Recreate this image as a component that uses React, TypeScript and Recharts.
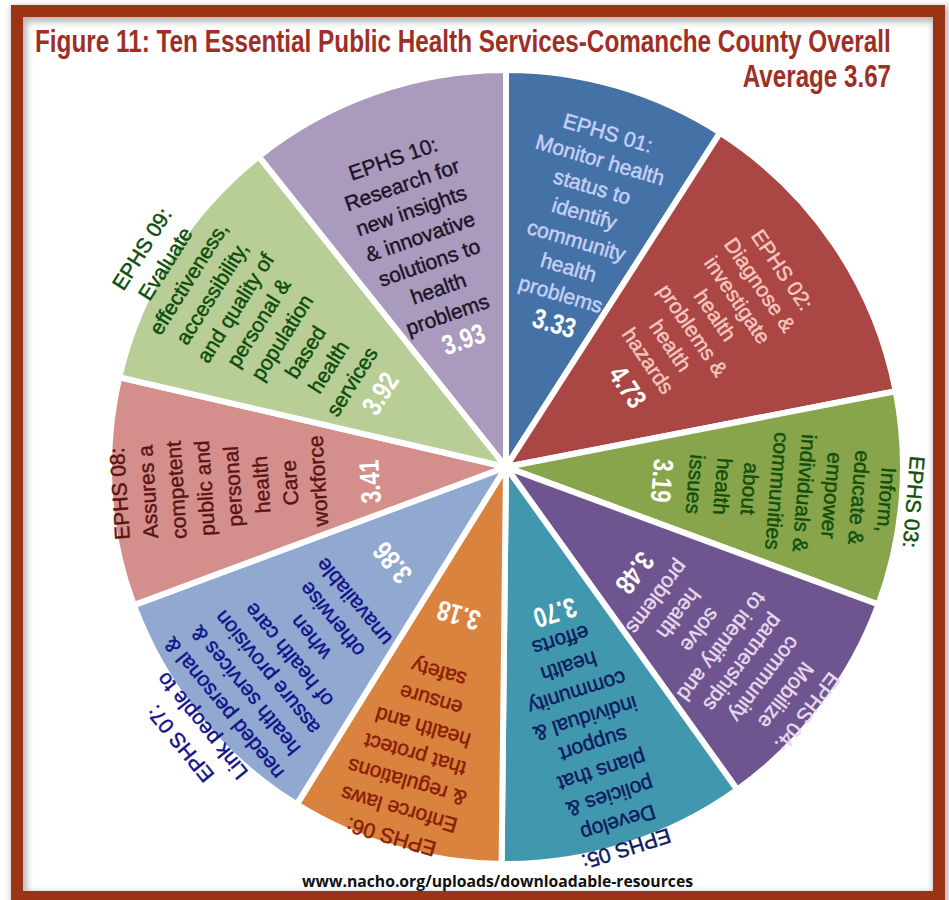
import { Cell, Pie, PieChart } from "recharts";

// EPHS scores, Comanche County
const services = [
  "EPHS 01:", "EPHS 02:", "EPHS 03:", "EPHS 04:", "EPHS 05:",
  "EPHS 06:", "EPHS 07:", "EPHS 08:", "EPHS 09:", "EPHS 10:",
];
const scores = [3.33, 4.73, 3.19, 3.48, 3.7, 3.18, 3.86, 3.41, 3.92, 3.93];
const descriptions = [
  ["Monitor health", "status to", "identify", "community", "health", "problems"],
  ["Diagnose &", "investigate", "health", "problems &", "health", "hazards"],
  ["Inform,", "educate &", "empower", "individuals &", "communities", "about", "health", "issues"],
  ["Mobilize", "community", "partnerships", "to identify and", "solve", "health", "problems"],
  ["Develop", "policies &", "plans that", "support", "individual &", "community", "health", "efforts"],
  ["Enforce laws", "& regulations", "that protect", "health and", "ensure", "safety"],
  ["Link people to", "needed personal &", "health services &", "assure provision", "of health care", "when", "otherwise", "unavailable"],
  ["Assures a", "competent", "public and", "personal", "health", "Care", "workforce"],
  ["Evaluate", "effectiveness,", "accessibility,", "and quality of", "personal &", "population", "based", "health", "services"],
  ["Research for", "new insights", "& innovative", "solutions to", "health", "problems"],
];

const sliceColors = [
  "#4472a6", "#aa4644", "#88a54c", "#6f5590", "#4198ae",
  "#da833e", "#91a9d0", "#d48f8d", "#b9cd97", "#a99abe",
];
const textColors = [
  "#c6d0f7", "#f5c6c0", "#10500c", "#e6d9ee", "#0f1b5e",
  "#8a1c05", "#10128a", "#5b1414", "#0b4d0b", "#1e1428",
];

// r0 = radius of first line, lh = line step, t = sideways shift, vr/vt = score position
const labelLayout = [
  { r0: 349, lh: 28, t: 4, vr: 152, vt: 6 },
  { r0: 339, lh: 27, t: -8, vr: 146, vt: 2 },
  { r0: 409, lh: 27.4, t: 2, vr: 157, vt: 1 },
  { r0: 388, lh: 27, t: 12, vr: 167, vt: 6 },
  { r0: 400, lh: 27.3, t: 0, vr: 154, vt: -3 },
  { r0: 387, lh: 28.5, t: 7, vr: 156, vt: 4 },
  { r0: 427, lh: 28, t: -8, vr: 149, vt: -2 },
  { r0: 387, lh: 28.4, t: -2, vr: 137, vt: -6 },
  { r0: 424, lh: 27.6, t: -10, vr: 146, vt: -5 },
  { r0: 328, lh: 27.5, t: -5, vr: 135, vt: 2 },
];

const data = services.map((s, i) => ({ name: s, value: scores[i] }));

const FONT = "'Liberation Sans', Arial, sans-serif";

const renderLabel = (props: any) => {
  const { cx, cy, midAngle, index } = props;
  const lay = labelLayout[index];
  const lines = [services[index], ...descriptions[index]];
  return (
    <g key={`lbl-${index}`} transform={`translate(${cx},${cy}) rotate(${90 - midAngle})`}>
      <text
        textAnchor="middle"
        fill={textColors[index]}
        stroke={textColors[index]}
        strokeWidth={0.45}
        fontSize={21}
        fontFamily={FONT}
      >
        {lines.map((s, i) => (
          <tspan key={i} x={lay.t} y={-(lay.r0 - i * lay.lh) + 7}>
            {s}
          </tspan>
        ))}
      </text>
      <g transform={`translate(${lay.vt},${-lay.vr + 10}) scale(0.8,1)`}>
        <text textAnchor="middle" fill="#fff" fontSize={28} fontWeight="bold" fontFamily={FONT}>
          {scores[index].toFixed(2)}
        </text>
      </g>
    </g>
  );
};

export default function App() {
  return (
    <div style={{ position: "absolute", left: 0, top: 0, width: 949, height: 900, background: "#fff" }}>
      <svg width={949} height={900} style={{ position: "absolute", left: 0, top: 0 }}>
        <defs>
          <filter id="soft" x="-5%" y="-5%" width="110%" height="110%">
            <feGaussianBlur stdDeviation="3" />
          </filter>
        </defs>
        <rect x={19} y={14} width={922} height={886} fill="none" stroke="#000" strokeOpacity={0.28} strokeWidth={16} filter="url(#soft)" />
        <rect x={17} y={11} width={922} height={886} fill="none" stroke="#9b3412" strokeWidth={12} />
        <g transform="translate(35,52) scale(0.78,1)">
          <text
            x={0}
            y={0}
            fontSize={31}
            fontWeight="bold"
            fill="#9e2f27"
            fontFamily={FONT}
            textLength={1097}
            lengthAdjust="spacingAndGlyphs"
          >
            Figure 11:  Ten Essential Public Health Services-Comanche County Overall
          </text>
        </g>
        <g transform="translate(891,87) scale(0.78,1)">
          <text
            x={0}
            y={0}
            textAnchor="end"
            fontSize={31}
            fontWeight="bold"
            fill="#9e2f27"
            fontFamily={FONT}
            textLength={190}
            lengthAdjust="spacingAndGlyphs"
          >
            Average 3.67
          </text>
        </g>
        <text
          x={302}
          y={887}
          fontSize={16}
          fontWeight="bold"
          fill="#111"
          fontFamily="'Open Sans', sans-serif"
          textLength={391}
          lengthAdjust="spacingAndGlyphs"
        >
          www.nacho.org/uploads/downloadable-resources
        </text>
      </svg>
      <div style={{ position: "absolute", left: 0, top: 0 }}>
        <PieChart width={949} height={900}>
          <Pie
            data={data}
            dataKey="value"
            nameKey="name"
            cx={501}
            cy={462}
            outerRadius={397}
            startAngle={90}
            endAngle={-270}
            stroke="#fff"
            strokeWidth={6}
            label={renderLabel}
            labelLine={false}
            isAnimationActive={false}
          >
            {data.map((d, i) => (
              <Cell key={d.name} fill={sliceColors[i]} />
            ))}
          </Pie>
        </PieChart>
      </div>
    </div>
  );
}
